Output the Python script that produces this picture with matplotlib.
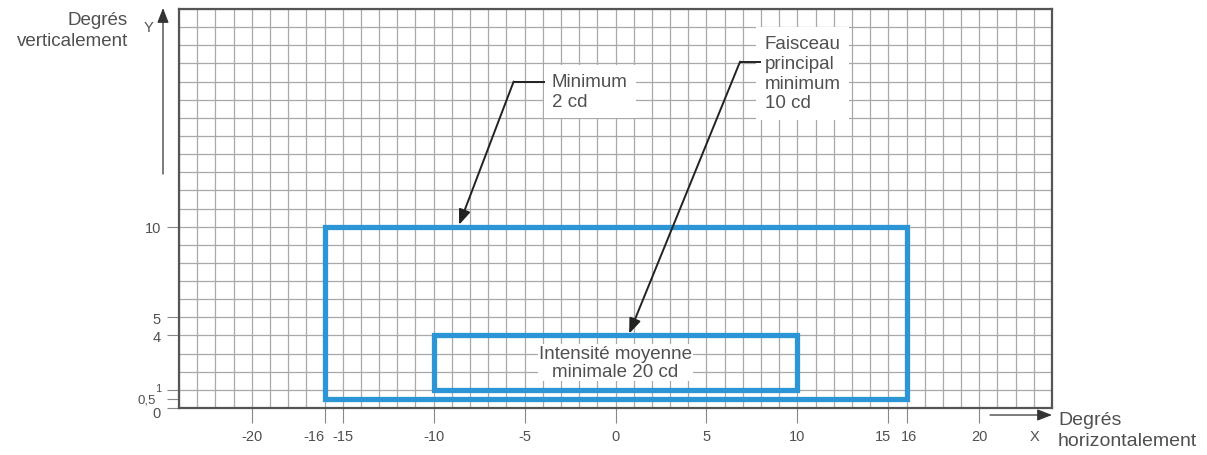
import matplotlib
matplotlib.use("Agg")
import matplotlib.pyplot as plt
from matplotlib.patches import Rectangle
from matplotlib.transforms import ScaledTranslation

# ---- data ----
x_range = [-24, 24]
y_range = [0, 22]
x_ticks = [-20, -16, -15, -10, -5, 0, 5, 10, 15, 16, 20]
x_ticklabels = ["-20", "-16", "-15", "-10", "-5", "0", "5", "10", "15", "16", "20"]
y_ticks = [0, 0.5, 1, 4, 5, 10]
y_ticklabels = ["0", "0,5", "1", "4", "5", "10"]

outer_box = dict(x0=-16, x1=16, y0=0.5, y1=10)   # Minimum 2 cd
inner_box = dict(x0=-10, x1=10, y0=1, y1=4)      # Intensité moyenne minimale 20 cd

inner_label = "Intensité moyenne\nminimale 20 cd"
inner_label_pos = (0, 2.5)

ann1_text = "Minimum\n2 cd"
ann1_text_pos = (-3.5, 17.45)
ann1_elbow = (-5.6, 18.0)
ann1_hstart = (-3.9, 18.0)
ann1_tip = (-8.6, 10.1)

ann2_text = "Faisceau\nprincipal\nminimum\n10 cd"
ann2_text_pos = (8.2, 18.45)
ann2_elbow = (6.85, 19.1)
ann2_hstart = (8.0, 19.1)
ann2_tip = (0.75, 4.1)

BLUE = "#2b95d6"
TXT = "#505050"
plt.rcParams['font.family'] = ['Liberation Sans', 'DejaVu Sans']

fig = plt.figure(figsize=(12.07, 4.56), dpi=100)
ax = fig.add_axes([179/1207, 1-409/456, (1052-179)/1207, (409-10)/456])
ax.set_xlim(*x_range)
ax.set_ylim(*y_range)

# grid every unit
for gx in range(x_range[0], x_range[1] + 1):
    ax.axvline(gx, color="#a8a8a8", lw=0.9, zorder=1)
for gy in range(y_range[0], y_range[1] + 1):
    ax.axhline(gy, color="#a8a8a8", lw=0.9, zorder=1)

for s in ax.spines.values():
    s.set_color("#555555")
    s.set_linewidth(1.6)
    s.set_zorder(5)

ax.set_xticks(x_ticks)
ax.set_xticklabels(x_ticklabels)
ax.set_yticks(y_ticks)
ax.set_yticklabels(y_ticklabels)
ax.tick_params(axis="x", length=11, width=0.8, color="#888888", labelsize=10.5, labelcolor=TXT, pad=4)
ax.tick_params(axis="y", length=9, width=0.8, color="#888888", labelsize=10.5, labelcolor=TXT, pad=4)

def shift(lab, dx_px, dy_px):
    lab.set_transform(lab.get_transform() + ScaledTranslation(dx_px / 100, dy_px / 100, fig.dpi_scale_trans))

for lab, v in zip(ax.get_xticklabels(), x_ticks):
    if v == -16:
        lab.set_horizontalalignment("right")
        shift(lab, 0, 0)
    elif v == 15:
        lab.set_horizontalalignment("right")
        shift(lab, 3, 0)
    elif v == 16:
        shift(lab, 2, 0)

for lab, v in zip(ax.get_yticklabels(), y_ticks):
    if v == 0:
        shift(lab, 0, -4)
    elif v == 0.5:
        lab.set_fontsize(9.5)
        shift(lab, -5, 1)
    elif v == 1:
        lab.set_fontsize(8)
        shift(lab, 0, 3)

# boxes
for b in (outer_box, inner_box):
    ax.add_patch(Rectangle((b["x0"], b["y0"]), b["x1"] - b["x0"], b["y1"] - b["y0"],
                           fill=False, edgecolor=BLUE, lw=3.8, zorder=4))

ax.text(*inner_label_pos, inner_label, ha="center", va="center", fontsize=13.5, color=TXT,
        linespacing=1.05, zorder=6,
        bbox=dict(facecolor="white", edgecolor="none", pad=1.0))

# annotations
def leader(text, tpos, hstart, elbow, tip):
    ax.text(*tpos, text, ha="left", va="center", fontsize=13.5, color=TXT, linespacing=1.2,
            zorder=6, bbox=dict(facecolor="white", edgecolor="none", pad=6))
    ax.plot([hstart[0], elbow[0]], [hstart[1], elbow[1]], color="#222222", lw=1.4, zorder=7,
            solid_capstyle="butt")
    ax.annotate("", xy=tip, xytext=elbow,
                arrowprops=dict(arrowstyle="-|>,head_length=0.9,head_width=0.35",
                                color="#222222", lw=1.4, shrinkA=0, shrinkB=0),
                zorder=7)

leader(ann1_text, ann1_text_pos, ann1_hstart, ann1_elbow, ann1_tip)
leader(ann2_text, ann2_text_pos, ann2_hstart, ann2_elbow, ann2_tip)

# axis arrows outside
axfx = lambda px: (px - 179) / 873
axfy = lambda py: (409 - py) / 399
ax.annotate("", xy=(axfx(163), axfy(9)), xytext=(axfx(163), axfy(175)),
            xycoords="axes fraction", textcoords="axes fraction",
            arrowprops=dict(arrowstyle="-|>,head_length=0.9,head_width=0.35",
                            color="#333333", lw=0.9, shrinkA=0, shrinkB=0),
            annotation_clip=False)
ax.annotate("", xy=(axfx(1052), axfy(416)), xytext=(axfx(990), axfy(416)),
            xycoords="axes fraction", textcoords="axes fraction",
            arrowprops=dict(arrowstyle="-|>,head_length=0.9,head_width=0.35",
                            color="#333333", lw=0.9, shrinkA=0, shrinkB=0),
            annotation_clip=False)

fig.text(148/1207, 1-28/456, "Y", ha="center", va="center", fontsize=10.5, color=TXT)
fig.text(128/1207, 1-31/456, "Degrés\nverticalement", ha="right", va="center",
         fontsize=13.5, color=TXT, linespacing=1.25)
fig.text(1035/1207, 1-437/456, "X", ha="center", va="center", fontsize=10.5, color=TXT)
fig.text(1058/1207, 1-431/456, "Degrés\nhorizontalement", ha="left", va="center",
         fontsize=14, color=TXT, linespacing=1.25)

fig.savefig("out.png", dpi=100, facecolor="white")
